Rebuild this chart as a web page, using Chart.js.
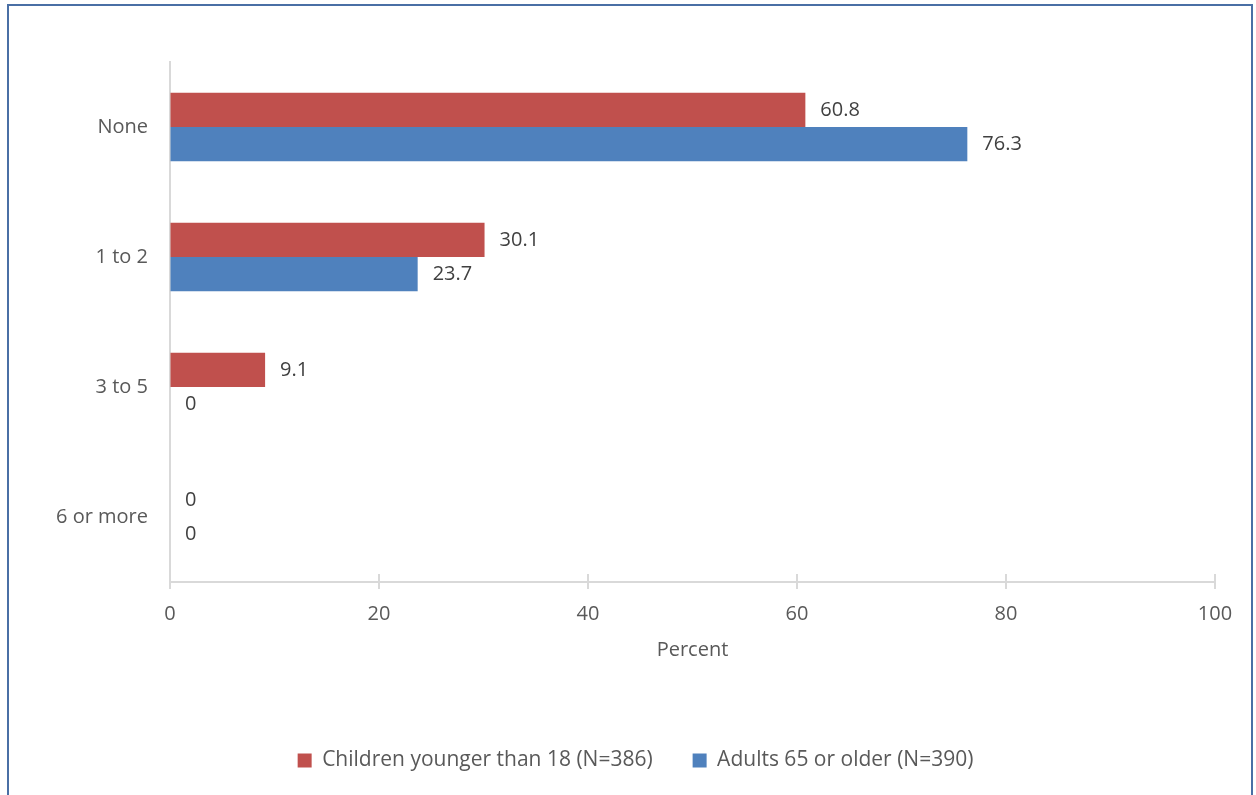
<!DOCTYPE html>
<html lang="en">
<head>
  <meta charset="UTF-8">
  <title>Number of categories</title>
  <script src="https://cdn.jsdelivr.net/npm/chart.js"></script>
  <style>
    html, body { margin: 0; padding: 0; background: #fff; }
    #wrap { position: relative; width: 1256px; height: 795px; }
    #frame {
      position: absolute; left: 7px; top: 4px; width: 1242px; height: 800px;
      border: 2px solid #4A6FA5; pointer-events: none;
    }
  </style>
</head>
<body>
<div id="wrap">
  <canvas id="chart" width="1256" height="795"></canvas>
  <div id="frame"></div>
</div>

<script>
    const categories = ['None', '1 to 2', '3 to 5', '6 or more'];
    const children = [60.8, 30.1, 9.1, 0];
    const adults = [76.3, 23.7, 0, 0];
    const seriesNames = ['Children younger than 18 (N=386)', 'Adults 65 or older (N=390)'];
    const xTicks = [0, 20, 40, 60, 80, 100];

    const FONT = "'Open Sans', sans-serif";
    const gray = '#595959';
    const axisColor = '#D9D9D9';

    // crossing tick marks on the x axis, like the original
    const crossTicks = {
        id: 'crossTicks',
        afterDraw(chart) {
            const ctx = chart.ctx;
            const xs = chart.scales.x;
            const yBase = chart.chartArea.bottom;
            ctx.save();
            ctx.strokeStyle = axisColor;
            ctx.lineWidth = 2;
            xTicks.forEach(v => {
                const px = Math.round(xs.getPixelForValue(v));
                ctx.beginPath();
                ctx.moveTo(px, yBase - 8);
                ctx.lineTo(px, yBase + 7);
                ctx.stroke();
            });
            ctx.restore();
        }
    };

    const barLabels = {
        id: 'barLabels',
        afterDatasetsDraw(chart) {
            const ctx = chart.ctx;
            ctx.save();
            ctx.font = '20px ' + FONT;
            ctx.fillStyle = '#404040';
            ctx.textAlign = 'left';
            ctx.textBaseline = 'middle';
            chart.data.datasets.forEach((ds, i) => {
                chart.getDatasetMeta(i).data.forEach((bar, j) => {
                    ctx.fillText(String(ds.data[j]), bar.x + 15, bar.y);
                });
            });
            ctx.restore();
        }
    };

    // legend in the original sits a bit right of centre
    const shiftLegend = {
        id: 'shiftLegend',
        afterLayout(chart) {
            if (chart.legend) {
                chart.legend.left += 28;
                chart.legend.right += 28;
            }
        }
    };

    new Chart(document.getElementById('chart'), {
        type: 'bar',
        data: {
            labels: categories,
            datasets: [
                { label: seriesNames[0], data: children, backgroundColor: '#C0504D' },
                { label: seriesNames[1], data: adults, backgroundColor: '#4F81BD' }
            ]
        },
        options: {
            indexAxis: 'y',
            responsive: false,
            animation: false,
            categoryPercentage: 0.527,
            barPercentage: 1,
            layout: { padding: { top: 62, right: 41, left: 0, bottom: 14 } },
            scales: {
                x: {
                    min: 0, max: 100,
                    afterBuildTicks: s => { s.ticks = xTicks.map(v => ({ value: v })); },
                    afterFit: s => { s.height = 128; },
                    grid: { display: true, drawOnChartArea: false, drawTicks: false },
                    border: { color: axisColor, width: 2 },
                    ticks: { font: { family: FONT, size: 20 }, color: gray, padding: 20 },
                    title: { display: true, text: 'Percent', font: { family: FONT, size: 20 }, color: gray, padding: { top: 4, bottom: 48 } }
                },
                y: {
                    afterFit: s => { s.width = 170; },
                    grid: { display: false, drawTicks: false },
                    border: { color: axisColor, width: 2 },
                    ticks: { font: { family: FONT, size: 20 }, color: gray, padding: 22 }
                }
            },
            plugins: {
                legend: {
                    position: 'bottom',
                    labels: {
                        font: { family: FONT, size: 21 },
                        color: gray,
                        boxWidth: 14, boxHeight: 14,
                        padding: 40
                    }
                },
                tooltip: { enabled: false }
            }
        },
        plugins: [crossTicks, barLabels, shiftLegend]
    });
</script>
</body>
</html>
